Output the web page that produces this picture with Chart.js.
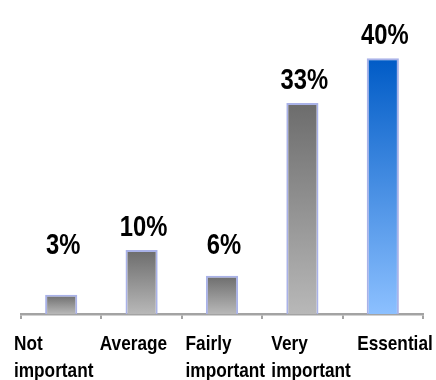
<!DOCTYPE html>
<html>
<head>
<meta charset="utf-8">
<script src="https://cdn.jsdelivr.net/npm/chart.js@4"></script>
<style>
  html, body { margin: 0; padding: 0; background: #fff; }
  #wrap { width: 436px; height: 380px; }
</style>
</head>
<body>
<div id="wrap"><canvas id="chart"></canvas></div>
<script>
var categories = [['Not', 'important'], ['Average'], ['Fairly', 'important'], ['Very', 'important'], ['Essential']];
var values = [3, 10, 6, 33, 40];
var valueLabels = ['3%', '10%', '6%', '33%', '40%'];

// gradient per bar, top dark to bottom light
function barFill(context) {
	var chart = context.chart;
	var area = chart.chartArea;
	if (!area) return null;
	var y = chart.scales.y;
	var top = y.getPixelForValue(context.raw);
	var base = y.getPixelForValue(0);
	var g = chart.ctx.createLinearGradient(0, top, 0, base);
	if (context.dataIndex === 4) {
		g.addColorStop(0, '#005bc6');
		g.addColorStop(1, '#8cc0ff');
	} else {
		g.addColorStop(0, '#6c6c6c');
		g.addColorStop(1, '#b8b8b8');
	}
	return g;
}

// narrow bold text: arial bold squeezed horizontally
function narrowText(ctx, t, x, y, sx) {
	ctx.save();
	ctx.translate(x, y);
	ctx.scale(sx, 1);
	ctx.fillText(t, 0, 0);
	ctx.restore();
}

var labelPlugin = {
	id: 'labels',
	afterDraw: function(chart) {
		var ctx = chart.ctx;
		var x = chart.scales.x;
		var meta = chart.getDatasetMeta(0);
		var base = chart.scales.y.getPixelForValue(0);
		ctx.save();
		ctx.fillStyle = '#000';
		// value labels above the bars
		ctx.font = 'bold 29px "Liberation Sans", Arial, sans-serif';
		ctx.textAlign = 'center';
		ctx.textBaseline = 'alphabetic';
		meta.data.forEach(function(bar, i) {
			var ly = Math.min(bar.y - 14, base - 60);
			narrowText(ctx, valueLabels[i], bar.x + 2, ly, 0.82);
		});
		// category labels, left aligned, spread a bit wider than the axis
		ctx.font = 'bold 21px "Liberation Sans", Arial, sans-serif';
		ctx.textAlign = 'left';
		var step = x.width / categories.length;
		categories.forEach(function(lines, i) {
			var cx = x.left - 7 + i * step * 1.067;
			lines.forEach(function(t, j) {
				narrowText(ctx, t, cx, base + 36 + j * 27, 0.82);
			});
		});
		ctx.restore();
	}
};

var ctx = document.getElementById('chart').getContext('2d');
new Chart(ctx, {
	type: 'bar',
	data: {
		labels: categories,
		datasets: [{
			data: values,
			backgroundColor: barFill,
			borderColor: '#a9b2e8',
			borderWidth: 2,
			borderSkipped: 'bottom',
			barPercentage: 0.4,
			categoryPercentage: 1
		}]
	},
	options: {
		responsive: true,
		maintainAspectRatio: false,
		animation: false,
		layout: { padding: { left: 21, right: 13, top: 20, bottom: 61 } },
		plugins: {
			legend: { display: false },
			tooltip: { enabled: false }
		},
		scales: {
			x: {
				grid: {
					display: true,
					drawOnChartArea: false,
					drawTicks: true,
					tickLength: 5,
					color: '#a3a3a3',
					lineWidth: 2
				},
				border: { display: true, color: '#a3a3a3', width: 2.5 },
				ticks: { display: false }
			},
			y: {
				display: false,
				min: 0,
				max: 46
			}
		}
	},
	plugins: [labelPlugin]
});
</script>
</body>
</html>
